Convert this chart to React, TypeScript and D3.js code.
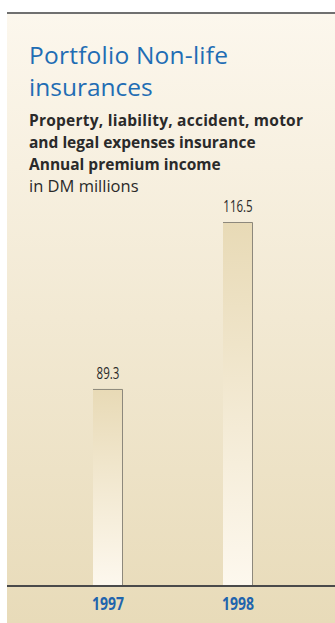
import React from "react";
import * as d3 from "d3";

const years = ["1997", "1998"];
const premiums = [89.3, 116.5];
const valueLabels = ["89.3", "116.5"];
const titleLines = ["Portfolio Non-life", "insurances"];
const subtitleBold = [
  "Property, liability, accident, motor",
  "and legal expenses insurance",
  "Annual premium income",
];
const unitLine = "in DM millions";

const W = 335;
const H = 623;

export default function App() {
  const x = d3.scalePoint<string>().domain(years).range([108, 238]);
  const y = d3.scaleLinear().domain([57.2, 116.5]).range([586, 222]);
  const barW = 30;
  const base = y(57.2);

  const sans = "'Open Sans', 'Noto Sans', sans-serif";

  return (
    <svg
      width={W}
      height={H}
      viewBox={`0 0 ${W} ${H}`}
      style={{ position: "absolute", left: 0, top: 0, display: "block" }}
    >
      <defs>
        <linearGradient id="bg" x1="0" y1="0" x2="0" y2="1">
          <stop offset="0%" stopColor="#fcf7ed" />
          <stop offset="100%" stopColor="#e8dbb9" />
        </linearGradient>
        <linearGradient id="bar" x1="0" y1="0" x2="0" y2="1">
          <stop offset="0%" stopColor="#e8dab6" />
          <stop offset="100%" stopColor="#fdf8ee" />
        </linearGradient>
      </defs>
      <rect x={0} y={0} width={W} height={H} fill="#ffffff" />
      <rect x={7} y={13} width={W - 7} height={H - 13} fill="url(#bg)" />
      <line x1={7} x2={W} y1={13} y2={13} stroke="#707070" strokeWidth={2} />

      {titleLines.map((t, i) => (
        <text
          key={t}
          x={29}
          y={64 + i * 32}
          fontFamily={sans}
          fontWeight={400}
          fontSize={24.5}
          fill="#1f6db4"
          textLength={i === 0 ? 199 : undefined}
        >
          {t}
        </text>
      ))}
      {subtitleBold.map((t, i) => (
        <text
          key={t}
          x={29}
          y={126 + i * 22}
          fontFamily={sans}
          fontWeight={700}
          fontSize={15.5}
          fill="#2a2a2a"
          textLength={i === 0 ? 274 : undefined}
        >
          {t}
        </text>
      ))}
      <text x={29} y={192} fontFamily={sans} fontSize={16.5} fill="#2a2a2a">
        {unitLine}
      </text>

      {years.map((yr, i) => {
        const cx = x(yr)!;
        const top = y(premiums[i]);
        return (
          <g key={yr}>
            <rect
              x={cx - barW / 2}
              y={top}
              width={barW}
              height={base - top}
              fill="url(#bar)"
            />
            <polyline
              points={`${cx - barW / 2},${top + 0.5} ${cx + barW / 2 - 0.5},${top + 0.5} ${cx + barW / 2 - 0.5},${base}`}
              fill="none"
              stroke="#8d887c"
              strokeWidth={1}
            />
            <text
              transform={`translate(${cx},${top - 10}) scale(0.68,1)`}
              textAnchor="middle"
              fontFamily={sans}
              fontSize={17}
              fill="#2a2a2a"
            >
              {valueLabels[i]}
            </text>
            <text
              transform={`translate(${cx},${610}) scale(0.8,1)`}
              textAnchor="middle"
              fontFamily={sans}
              fontWeight={700}
              fontSize={17.5}
              fill="#1f64ad"
            >
              {yr}
            </text>
          </g>
        );
      })}
      <line x1={7} x2={W} y1={586} y2={586} stroke="#4a4a4a" strokeWidth={2} />
    </svg>
  );
}
